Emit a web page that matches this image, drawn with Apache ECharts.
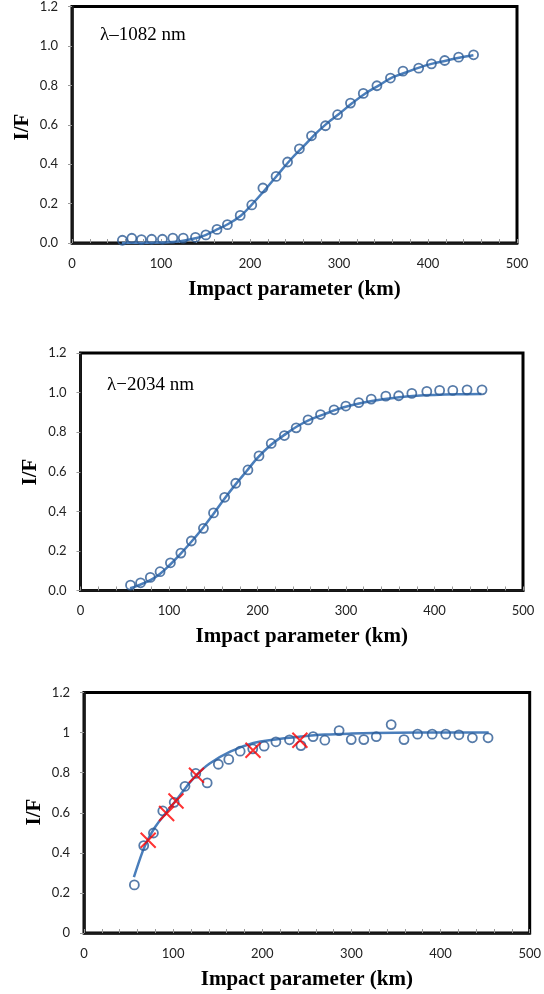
<!DOCTYPE html>
<html>
<head>
<meta charset="utf-8">
<script src="https://cdn.jsdelivr.net/npm/echarts@6/dist/echarts.min.js"></script>
<style>
  html, body { margin: 0; padding: 0; background: #fff; }
  #chart { width: 544px; height: 994px; }
</style>
</head>
<body>
<div id="chart"></div>
<script>
// λ = 1082 nm: measured I/F profile and model curve
const impact1082 = [56.6, 67.2, 78, 89.5, 101.6, 113.3, 125, 138.7, 150.4, 162.9, 174.6, 189, 202, 214.5, 229.3,
  242.2, 255.5, 269.1, 284.8, 298.4, 312.9, 327.3, 342.6, 357.8, 371.9, 389.5, 403.9, 418.8, 434.4, 451.2];
const ratio1082 = [0.014, 0.024, 0.017, 0.019, 0.019, 0.025, 0.025, 0.029, 0.041, 0.069, 0.093, 0.14, 0.193, 0.279, 0.338,
  0.411, 0.478, 0.544, 0.595, 0.651, 0.71, 0.759, 0.798, 0.837, 0.872, 0.887, 0.909, 0.926, 0.943, 0.955];
const fitImpact1082 = [56, 80, 100, 120, 140, 150, 160, 175, 190, 200, 215, 230, 245, 260, 275, 290, 300, 315, 330,
  345, 360, 375, 390, 405, 420, 435, 451];
const fitRatio1082 = [0.0, 0.0, 0.002, 0.008, 0.025, 0.04, 0.062, 0.095, 0.14, 0.185, 0.26, 0.34, 0.42, 0.49, 0.56,
  0.62, 0.655, 0.71, 0.76, 0.80, 0.84, 0.865, 0.89, 0.91, 0.925, 0.94, 0.953];

// λ = 2034 nm
const impact2034 = [56.5, 67.9, 78.9, 89.9, 101.6, 113.4, 125.2, 138.9, 150.3, 162.9, 175.4, 189.2, 201.7, 215.5, 230.4,
  243.7, 257.1, 271.2, 286.5, 299.8, 314.4, 328.5, 345, 359.5, 374.4, 391.3, 405.8, 420.7, 436.8, 453.7];
const ratio2034 = [0.027, 0.039, 0.066, 0.095, 0.14, 0.189, 0.25, 0.314, 0.392, 0.471, 0.542, 0.609, 0.68, 0.743, 0.783,
  0.822, 0.862, 0.889, 0.913, 0.932, 0.949, 0.967, 0.982, 0.984, 0.996, 1.006, 1.011, 1.011, 1.014, 1.014];
const fitImpact2034 = [56, 65, 80, 90, 100, 112, 125, 138, 150, 162, 175, 188, 200, 215, 230, 245, 260, 275, 290, 305,
  320, 340, 360, 380, 400, 425, 453];
const fitRatio2034 = [0.012, 0.025, 0.055, 0.085, 0.125, 0.18, 0.245, 0.315, 0.385, 0.46, 0.535, 0.605, 0.67, 0.735,
  0.785, 0.83, 0.865, 0.89, 0.915, 0.935, 0.95, 0.965, 0.977, 0.984, 0.988, 0.991, 0.993];

// Third profile: observed points, reference points (crosses) and model curve
const impactObs = [56.5, 67, 77.9, 88.4, 101.2, 113.3, 125.4, 138.2, 150.7, 162.4, 175.2, 189.3, 202.1, 215.3, 230.5,
  243.4, 257, 270.2, 286.2, 299.8, 313.9, 327.9, 344.6, 359, 374.2, 390.6, 405.8, 420.6, 435.7, 453.3];
const ratioObs = [0.24, 0.436, 0.499, 0.609, 0.652, 0.732, 0.796, 0.749, 0.842, 0.866, 0.907, 0.919, 0.932, 0.954, 0.964,
  0.935, 0.98, 0.962, 1.01, 0.965, 0.965, 0.98, 1.04, 0.965, 0.992, 0.992, 0.992, 0.989, 0.974, 0.974];
const impactRef = [72, 92.7, 103.2, 126.2, 189.6, 242.2];
const ratioRef = [0.463, 0.596, 0.659, 0.787, 0.912, 0.962];
const fitImpactObs = [56, 66, 71, 80, 92, 103, 115, 126, 141, 164, 190, 215, 243, 270, 300, 350, 400, 454];
const fitRatioObs = [0.279, 0.41, 0.46, 0.53, 0.60, 0.66, 0.73, 0.787, 0.846, 0.905, 0.948, 0.966, 0.98, 0.99, 0.995,
  0.999, 1.0, 1.0];

const xTicks = { min: 0, max: 500, interval: 100 };
const yTicks = { min: 0, max: 1.2, interval: 0.2 };

const pairs = (xs, ys) => xs.map((x, i) => [x, ys[i]]);

const LINE_BLUE = '#4a7ebb';
const MARK_BLUE = '#2c5a93';
const tickFont = { fontFamily: 'Lato', fontSize: 13, color: '#222' };
const titleFont = { fontFamily: 'Liberation Serif', fontWeight: 'bold', fontSize: 21, color: '#000' };

const grids = [
  { left: 72, right: 27, top: 6, height: 237 },
  { left: 80.5, right: 21, top: 353, height: 237.5 },
  { left: 84, right: 13, top: 692.5, height: 240.5 }
];
const yFormatters = [v => v.toFixed(1), v => v.toFixed(1), v => String(Math.round(v * 10) / 10)];
// Vertical "I/F" titles, placed beside each panel's value labels
const yTitleSpots = [[22.5, 127], [31, 472], [34.5, 812]];

const xAxes = grids.map((g, i) => ({
  type: 'value', gridIndex: i, min: xTicks.min, max: xTicks.max, interval: xTicks.interval,
  axisLine: { show: true, lineStyle: { color: '#1a1a1a', width: 2.5 } },
  axisTick: { show: true, inside: true, length: 4, lineStyle: { color: '#999', width: 1 } },
  minorTick: { show: true, splitNumber: 5, length: 4, lineStyle: { color: '#999', width: 1 } },
  splitLine: { show: false },
  axisLabel: Object.assign({ margin: 14 }, tickFont),
  name: 'Impact parameter (km)', nameLocation: 'middle', nameGap: 36,
  nameTextStyle: titleFont
}));

const yAxes = grids.map((g, i) => ({
  type: 'value', gridIndex: i, min: yTicks.min, max: yTicks.max, interval: yTicks.interval,
  axisLine: { show: true, lineStyle: { color: '#1a1a1a', width: 2.5 } },
  axisTick: { show: true, inside: false, length: 4, lineStyle: { color: '#999', width: 1 } },
  splitLine: { show: false },
  axisLabel: Object.assign({ margin: 14, formatter: yFormatters[i] }, tickFont)
}));

const circleStyle = {
  type: 'scatter', symbol: 'circle', symbolSize: 9,
  itemStyle: { color: 'rgba(0,0,0,0)', borderColor: MARK_BLUE, borderWidth: 1.8 },
  z: 3
};
const fitStyle = {
  type: 'line', showSymbol: false, symbol: 'none', smooth: 0.4,
  lineStyle: { color: LINE_BLUE, width: 2.5 }, z: 2
};

const series = [
  Object.assign({ name: 'fit 1082', xAxisIndex: 0, yAxisIndex: 0, data: pairs(fitImpact1082, fitRatio1082) }, fitStyle),
  Object.assign({ name: 'data 1082', xAxisIndex: 0, yAxisIndex: 0, data: pairs(impact1082, ratio1082) }, circleStyle),
  Object.assign({ name: 'fit 2034', xAxisIndex: 1, yAxisIndex: 1, data: pairs(fitImpact2034, fitRatio2034) }, fitStyle),
  Object.assign({ name: 'data 2034', xAxisIndex: 1, yAxisIndex: 1, data: pairs(impact2034, ratio2034) }, circleStyle),
  Object.assign({ name: 'fit obs', xAxisIndex: 2, yAxisIndex: 2, data: pairs(fitImpactObs, fitRatioObs) }, fitStyle),
  Object.assign({ name: 'data obs', xAxisIndex: 2, yAxisIndex: 2, data: pairs(impactObs, ratioObs) }, circleStyle),
  {
    name: 'reference', type: 'scatter', xAxisIndex: 2, yAxisIndex: 2,
    data: pairs(impactRef, ratioRef),
    symbol: 'path://M0 0L20 20M20 0L0 20', symbolSize: 15,
    itemStyle: { color: 'rgba(0,0,0,0)', borderColor: '#ff0000', borderWidth: 2 },
    z: 4
  }
];

const yTitles = yTitleSpots.map(([x, y]) => ({
  type: 'text', x: x, y: y, rotation: Math.PI / 2,
  style: {
    text: 'I/F', font: 'bold 21px "Liberation Serif"', fill: '#000',
    align: 'center', verticalAlign: 'middle', textAlign: 'center', textVerticalAlign: 'middle'
  }
}));

const chart = echarts.init(document.getElementById('chart'), null, { renderer: 'canvas' });
chart.setOption({
  animation: false,
  backgroundColor: '#fff',
  grid: grids.map(g => Object.assign({ show: true, borderColor: '#000', borderWidth: 3, backgroundColor: 'transparent' }, g)),
  xAxis: xAxes,
  yAxis: yAxes,
  series: series,
  graphic: [
    { type: 'text', left: 100, top: 26, style: { text: 'λ–1082 nm', font: '19px "Liberation Serif"', fill: '#000' } },
    { type: 'text', left: 107, top: 376, style: { text: 'λ−2034 nm', font: '19px "Liberation Serif"', fill: '#000' } }
  ].concat(yTitles)
});
</script>
</body>
</html>
